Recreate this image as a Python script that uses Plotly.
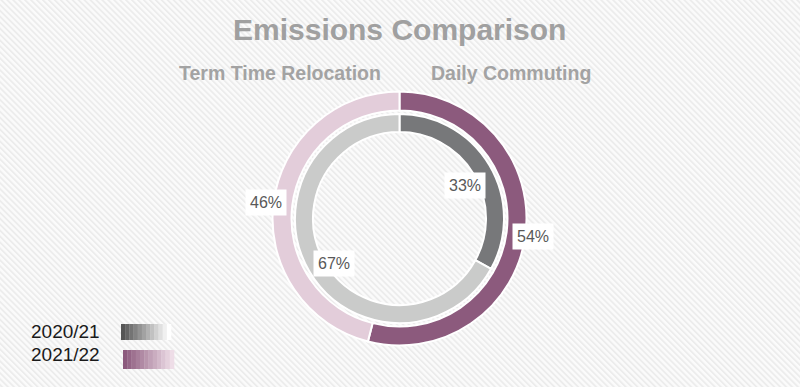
import base64
import math
import plotly.graph_objects as go

# ---- data ----
categories = ["Daily Commuting", "Term Time Relocation"]
years = ["2020/21", "2021/22"]
share_2020_21 = [33, 67]
share_2021_22 = [54, 46]

# ---- styling ----
W, H = 800, 387
cx_px, cy_px = 399.5, 218.5
outer_r, outer_w = 127, 19
inner_r, inner_w = 104.5, 18
outer_colors = ["#8c5a7d", "#e3cdda"]
inner_colors = ["#77787a", "#cacbca"]
FONT = "Liberation Sans, Arial, sans-serif"
label_font = dict(family=FONT, size=16, color="#595959")

cx = cx_px / W
cy = (H - cy_px) / H


def domain(r):
    return dict(x=[cx - r / W, cx + r / W], y=[cy - r / H, cy + r / H])


# background diagonal stripe pattern
svg = f'''<svg xmlns="http://www.w3.org/2000/svg" width="{W}" height="{H}">
<defs><pattern id="p" width="4.2" height="4.2" patternUnits="userSpaceOnUse" patternTransform="rotate(-45)">
<rect width="4.2" height="4.2" fill="#fbfbfb"/><rect width="1.8" height="4.2" fill="#ececec"/></pattern></defs>
<rect width="{W}" height="{H}" fill="url(#p)"/></svg>'''
bg_uri = "data:image/svg+xml;base64," + base64.b64encode(svg.encode()).decode()

fig = go.Figure()
fig.add_trace(go.Pie(
    labels=categories, values=share_2021_22, name=years[1],
    sort=False, direction="clockwise", rotation=0,
    hole=(outer_r - outer_w) / outer_r, domain=domain(outer_r),
    marker=dict(colors=outer_colors, line=dict(color="white", width=2)),
    textinfo="none", hoverinfo="label+percent+name", showlegend=False,
))
fig.add_trace(go.Pie(
    labels=categories, values=share_2020_21, name=years[0],
    sort=False, direction="clockwise", rotation=0,
    hole=(inner_r - inner_w) / inner_r, domain=domain(inner_r),
    marker=dict(colors=inner_colors, line=dict(color="white", width=2)),
    textinfo="none", hoverinfo="label+percent+name", showlegend=False,
))

annotations = []


def ann(xpx, ypx, text, font, xanchor="center", **kw):
    annotations.append(dict(x=xpx / W, y=1 - ypx / H, xref="paper", yref="paper",
                            showarrow=False, xanchor=xanchor, yanchor="middle",
                            text=text, font=font, **kw))


def add_labels(values, r_label, dy=0):
    total = sum(values)
    acc = 0
    for v in values:
        mid = (acc + v / 2) / total * 2 * math.pi
        acc += v
        ann(cx_px + r_label * math.sin(mid), cy_px - r_label * math.cos(mid) + dy,
            f"{round(v / total * 100)}%", label_font, bgcolor="white", borderpad=4)


add_labels(share_2020_21, 76, dy=6)
add_labels(share_2021_22, 135, dy=1)

# title & category headers
ann(399, 29, "<b>Emissions Comparison</b>", dict(family=FONT, size=30, color="#a0a0a0"))
ann(280, 73, f"<b>{categories[1]}</b>", dict(family=FONT, size=19.5, color="#a3a3a3"))
ann(511, 73, f"<b>{categories[0]}</b>", dict(family=FONT, size=19.5, color="#a3a3a3"))

# manual legend with stepped gradient swatches
shapes = []
legend_rows = [(years[0], 331, 324, 340, "#555555", "#ffffff", 121, 171),
               (years[1], 354, 350, 369, "#8c5a7d", "#eedde7", 123, 174)]


def mix(c1, c2, t):
    a = [int(c1[i:i + 2], 16) for i in (1, 3, 5)]
    b = [int(c2[i:i + 2], 16) for i in (1, 3, 5)]
    return "#" + "".join(f"{round(a[k] + (b[k] - a[k]) * t):02x}" for k in range(3))


for name, ytext, y0, y1, c1, c2, x0, x1 in legend_rows:
    ann(29, ytext, name, dict(family=FONT, size=19, color="#1a1a1a"), xanchor="left")
    steps = 12
    sw = (x1 - x0) / steps
    for i in range(steps):
        shapes.append(dict(type="rect", xref="paper", yref="paper",
                           x0=(x0 + i * sw) / W, x1=(x0 + (i + 1) * sw + 0.3) / W,
                           y0=1 - y1 / H, y1=1 - y0 / H,
                           line=dict(width=0), fillcolor=mix(c1, c2, i / (steps - 1))))

fig.update_layout(
    width=W, height=H,
    margin=dict(l=0, r=0, t=0, b=0),
    paper_bgcolor="white", plot_bgcolor="white",
    images=[dict(source=bg_uri, xref="paper", yref="paper", x=0, y=1, sizex=1, sizey=1,
                 sizing="stretch", layer="below", xanchor="left", yanchor="top")],
    annotations=annotations, shapes=shapes,
    showlegend=False,
)

fig.write_html("out.html", config={"displayModeBar": False},
               post_script="document.body.style.margin='0';")
